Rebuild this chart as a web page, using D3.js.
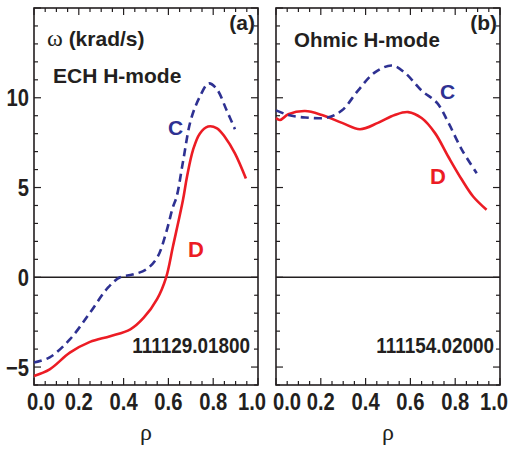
<!DOCTYPE html>
<html>
<head>
<meta charset="utf-8">
<script src="https://cdn.jsdelivr.net/npm/d3@7"></script>
<style>
  body { margin: 0; background: #fff; }
  svg { display: block; }
  .num { font-family: "Liberation Sans", Arial, sans-serif; font-weight: bold; font-size: 23.5px; fill: #231f20; }
  .lbl { font-family: "Liberation Sans", Arial, sans-serif; font-weight: bold; fill: #231f20; }
  .greek { font-family: "Liberation Serif", "DejaVu Serif", serif; fill: #231f20; }
</style>
</head>
<body>
<svg id="chart" width="515" height="450"></svg>
<script>
// panel (a) ECH H-mode, shot 111129.01800
var rhoA_C   = [0.00, 0.07, 0.16, 0.25, 0.33, 0.384, 0.44, 0.50, 0.55, 0.59, 0.62, 0.637, 0.666, 0.70, 0.74, 0.78, 0.815, 0.86, 0.897];
var omegaA_C = [-4.75, -4.46, -3.46, -1.97, -0.58, 0.0, 0.15, 0.43, 1.1, 2.5, 3.9, 4.5, 6.5, 8.76, 10.05, 10.8, 10.5, 9.3, 8.25];
var rhoA_D   = [0.00, 0.07, 0.16, 0.25, 0.34, 0.43, 0.49, 0.55, 0.59, 0.62, 0.665, 0.683, 0.71, 0.74, 0.777, 0.817, 0.853, 0.897, 0.946];
var omegaA_D = [-5.5, -5.13, -4.2, -3.6, -3.28, -2.9, -2.25, -1.2, 0.0, 1.7, 4.3, 5.6, 7.1, 8.0, 8.4, 8.3, 7.8, 6.9, 5.5];

// panel (b) Ohmic H-mode, shot 111154.02000
var rhoB_C   = [0.00, 0.055, 0.13, 0.23, 0.295, 0.366, 0.44, 0.518, 0.575, 0.65, 0.72, 0.77, 0.83, 0.896];
var omegaB_C = [9.3, 9.04, 8.9, 8.9, 9.3, 10.4, 11.4, 11.8, 11.4, 10.4, 9.7, 8.6, 7.1, 5.8];
var rhoB_D   = [0.00, 0.018, 0.055, 0.13, 0.205, 0.295, 0.375, 0.455, 0.53, 0.59, 0.65, 0.71, 0.77, 0.83, 0.88, 0.94];
var omegaB_D = [8.87, 8.76, 9.08, 9.26, 9.04, 8.6, 8.25, 8.6, 9.04, 9.2, 8.87, 8.03, 6.7, 5.43, 4.5, 3.76];

var xTicks = [0.0, 0.2, 0.4, 0.6, 0.8, 1.0];
var yTicks = [-5, 0, 5, 10];

var panels = [
  { x0: 34, x1: 258, tag: "(a)", mode: "ECH H-mode", shot: "111129.01800", yLabels: true,
    C: { rho: rhoA_C, w: omegaA_C }, D: { rho: rhoA_D, w: omegaA_D },
    cPos: [0.598, 7.93], dPos: [0.6875, 1.15], shotDx: -8 },
  { x0: 276, x1: 500, tag: "(b)", mode: "Ohmic H-mode", shot: "111154.02000", yLabels: false,
    C: { rho: rhoB_C, w: omegaB_C }, D: { rho: rhoB_D, w: omegaB_D },
    cPos: [0.732, 9.93], dPos: [0.6875, 5.2], shotDx: -6 }
];

var svg = d3.select("#chart");
var y = d3.scaleLinear().domain([-6, 15]).range([385, 8]);
var red = "#ec1c24", blue = "#2e3192", ink = "#231f20";

// condensed bold numbers (the original uses a narrow Helvetica)
function narrow(sel, px, py, str, anchor, size){
  var t = sel.append("g").attr("transform", "translate(" + px + "," + py + ") scale(0.86,1)")
    .append("text").attr("class", "num").attr("text-anchor", anchor || "middle").text(str);
  if (size) t.style("font-size", size + "px");
  return t;
}

panels.forEach(function(p){
  var x = d3.scaleLinear().domain([0, 1]).range([p.x0, p.x1]);
  var g = svg.append("g");

  // inward ticks on all four sides
  var xMinor = d3.range(0, 1.0001, 0.05);
  var yMinor = d3.range(-6, 15.0001, 1);
  var isMajX = function(v){ return Math.abs(v*5 - Math.round(v*5)) < 1e-6; };
  var isMajY = function(v){ return v % 5 === 0; };

  xMinor.forEach(function(v){
    var len = isMajX(v) ? 7 : 4;
    g.append("line").attr("x1", x(v)).attr("x2", x(v)).attr("y1", y(-6)).attr("y2", y(-6) - len)
      .attr("stroke", ink).attr("stroke-width", 1.2);
    g.append("line").attr("x1", x(v)).attr("x2", x(v)).attr("y1", y(15)).attr("y2", y(15) + len)
      .attr("stroke", ink).attr("stroke-width", 1.2);
  });
  yMinor.forEach(function(v){
    var len = isMajY(v) ? 7 : 4;
    g.append("line").attr("x1", p.x0).attr("x2", p.x0 + len).attr("y1", y(v)).attr("y2", y(v))
      .attr("stroke", ink).attr("stroke-width", 1.2);
    g.append("line").attr("x1", p.x1).attr("x2", p.x1 - len).attr("y1", y(v)).attr("y2", y(v))
      .attr("stroke", ink).attr("stroke-width", 1.2);
  });

  // zero line
  g.append("line").attr("x1", p.x0).attr("x2", p.x1).attr("y1", y(0)).attr("y2", y(0))
    .attr("stroke", ink).attr("stroke-width", 1.5);

  // frame
  g.append("rect").attr("x", p.x0).attr("y", y(15)).attr("width", p.x1 - p.x0).attr("height", y(-6) - y(15))
    .attr("fill", "none").attr("stroke", ink).attr("stroke-width", 1.6);

  // x tick labels (end labels pulled inward like the original)
  xTicks.forEach(function(v, i){
    var shift = i === 0 ? (p.yLabels ? 7 : 11) : (i === xTicks.length - 1 ? -6 : 0);
    narrow(g, x(v) + shift, 410, v.toFixed(1));
  });

  if (p.yLabels) {
    yTicks.forEach(function(v){
      narrow(g, 29, y(v) + 8.5, v < 0 ? "\u2212" + Math.abs(v) : String(v), "end");
    });
  }

  var line = d3.line().curve(d3.curveCatmullRom.alpha(0.5))
    .x(function(d){ return x(d[0]); }).y(function(d){ return y(d[1]); });

  g.append("path").datum(d3.zip(p.D.rho, p.D.w)).attr("d", line)
    .attr("fill", "none").attr("stroke", red).attr("stroke-width", 2.6);
  g.append("path").datum(d3.zip(p.C.rho, p.C.w)).attr("d", line)
    .attr("fill", "none").attr("stroke", blue).attr("stroke-width", 2.6)
    .attr("stroke-dasharray", "8,5");

  g.append("text").attr("class", "lbl").attr("x", x(p.cPos[0])).attr("y", y(p.cPos[1]))
    .attr("font-size", 21).style("fill", blue).text("C");
  g.append("text").attr("class", "lbl").attr("x", x(p.dPos[0])).attr("y", y(p.dPos[1]))
    .attr("font-size", 22).style("fill", red).text("D");

  g.append("text").attr("class", "lbl").attr("x", p.x1 - 3).attr("y", 30)
    .attr("text-anchor", "end").attr("font-size", 21).text(p.tag);
  narrow(g, p.x1 + p.shotDx, 353, p.shot, "end", 22);

  g.append("text").attr("class", "greek").attr("x", x(0.5)).attr("y", 440)
    .attr("text-anchor", "middle").attr("font-size", 24).text("\u03c1");
});

// in-panel titles
svg.append("text").attr("class", "lbl").attr("x", 53).attr("y", 83).attr("font-size", 21).text("ECH H-mode");
svg.append("text").attr("class", "lbl").attr("x", 294).attr("y", 47).attr("font-size", 20.5).text("Ohmic H-mode");
var t = svg.append("text").attr("x", 47).attr("y", 46).attr("font-size", 21);
t.append("tspan").attr("class", "greek").attr("font-size", 24).text("\u03c9");
t.append("tspan").attr("class", "lbl").text(" (krad/s)");
</script>
</body>
</html>
